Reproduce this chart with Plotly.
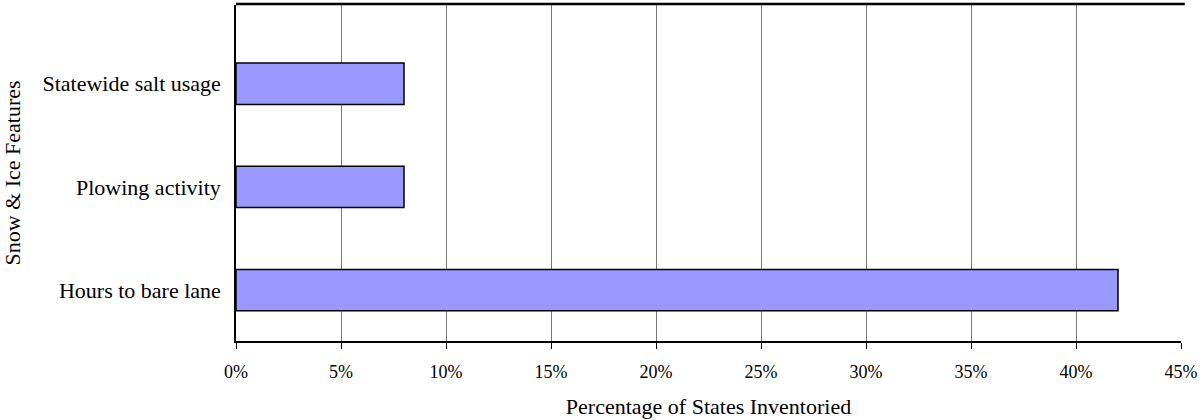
import plotly.graph_objects as go

# Snow & ice inventory features (bottom to top)
features = ["Hours to bare lane", "Plowing activity", "Statewide salt usage"]
percent_inventoried = [42, 8, 8]

x_ticks = [0, 5, 10, 15, 20, 25, 30, 35, 40, 45]
x_tick_labels = [f"{t}%" for t in x_ticks]

font_family = "Liberation Serif, Times New Roman, serif"

fig = go.Figure(
    go.Bar(
        x=percent_inventoried,
        y=list(range(len(features))),
        orientation="h",
        width=0.4,
        marker=dict(color="#9999FF", line=dict(color="black", width=1.5)),
        hoverinfo="skip",
    )
)

fig.update_layout(
    width=1203,
    height=420,
    margin=dict(l=236, r=18, t=5, b=78),
    paper_bgcolor="white",
    plot_bgcolor="white",
    showlegend=False,
    font=dict(family=font_family, size=22, color="black"),
    xaxis=dict(
        range=[0, 45],
        tickvals=x_ticks,
        ticktext=x_tick_labels,
        tickfont=dict(size=18),
        showgrid=True,
        gridcolor="#777777",
        gridwidth=1,
        zeroline=False,
        showline=True,
        linecolor="black",
        linewidth=1.5,
        ticks="outside",
        ticklen=6,
        tickcolor="black",
        ticklabelstandoff=8,
        title=dict(text="Percentage of States Inventoried", standoff=17,
                   font=dict(size=22)),
        fixedrange=True,
    ),
    yaxis=dict(
        range=[-0.493, 2.763],
        tickvals=list(range(len(features))),
        ticktext=features,
        tickfont=dict(size=22),
        showgrid=False,
        zeroline=False,
        showline=True,
        linecolor="black",
        linewidth=1.5,
        ticks="",
        ticklabelstandoff=9,
        title=dict(text="Snow & Ice Features", standoff=17, font=dict(size=22)),
        fixedrange=True,
    ),
    shapes=[
        dict(type="line", xref="paper", yref="paper", x0=0, x1=1.004,
             y0=1.003, y1=1.003, line=dict(color="black", width=2.5)),
    ],
)

fig.write_html("out.html")
